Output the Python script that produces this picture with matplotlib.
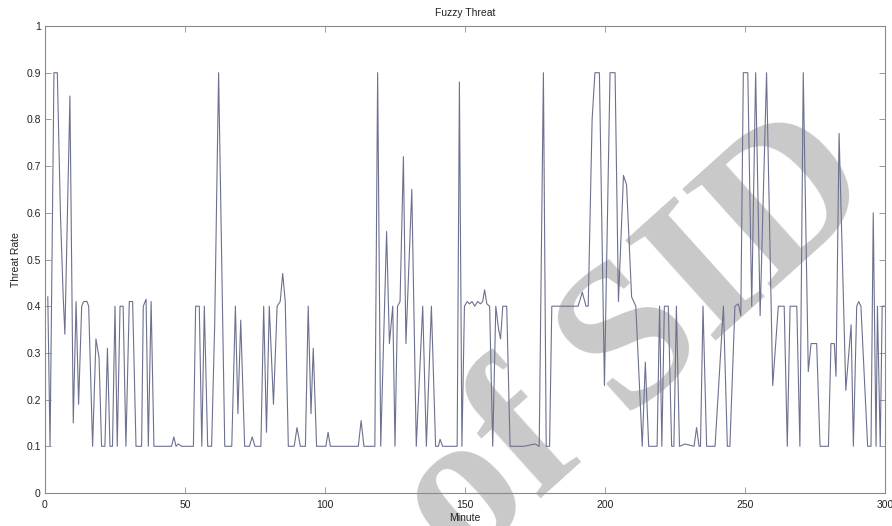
import numpy as np
import matplotlib.pyplot as plt
from matplotlib.ticker import FuncFormatter

# breakpoints of the threat curve (minute, rate)
minutes = [1, 1.8, 3.2, 4.4, 5.5, 6.5, 7.1, 8.9, 10.1, 11.1, 12.0, 13.1, 13.8, 15.0, 15.6,
           17.0, 18.2, 19.3, 20.2, 21.4, 22.3, 23.2, 24.1, 25.0, 25.8, 26.8, 27.9, 28.9,
           30.1, 31.3, 32.5, 34.5, 35.1, 36.1, 36.9, 37.9, 38.9, 45.2, 46.0, 46.8, 47.6,
           48.8, 53.0, 53.8, 55.1, 56.0, 56.9, 58.1, 59.5, 60.6, 62.0, 64.2, 66.7, 68.0,
           68.9, 69.9, 71.3, 73.0, 74.0, 75.0, 77.1, 78.1, 79.1, 80.1, 81.6, 82.9, 84.0,
           84.9, 85.8, 86.9, 89.0, 90.0, 91.2, 93.0, 94.0, 95.0, 95.8, 97.0, 100.3, 101.1,
           101.9, 111.9, 112.9, 113.9, 117.8, 118.8, 119.9, 122.0, 123.0, 124.2, 125.0,
           125.9, 126.8, 128.0, 128.9, 131.0, 132.6, 134.9, 136.2, 138.0, 139.5, 140.5,
           141.1, 142.0, 147.2, 148.0, 148.9, 149.8, 150.8, 151.6, 152.5, 153.5, 154.5,
           155.5, 156.3, 157.0, 157.8, 158.8, 159.9, 161.0, 162.0, 162.7, 163.5, 164.9,
           166.1, 171.0, 175.0, 176.5, 178.0, 179.0, 180.2, 181.0, 190.4, 191.9, 193.2,
           194.0, 195.4, 196.4, 198.0, 199.8, 201.8, 203.6, 204.8, 206.6, 207.7, 209.5,
           211.0, 213.3, 214.4, 215.6, 218.6, 219.5, 220.3, 221.2, 222.6, 223.8, 224.6,
           225.5, 226.6, 228.6, 231.8, 232.7, 233.6, 234.1, 235.0, 236.3, 239.3, 242.3,
           243.7, 244.6, 246.4, 247.6, 248.5, 249.4, 251.0, 252.4, 253.8, 255.4, 257.7,
           259.9, 261.9, 264.0, 265.1, 266.1, 268.5, 269.6, 270.8, 272.6, 273.6, 275.6,
           276.8, 279.8, 280.7, 281.9, 282.5, 283.6, 286.0, 287.9, 288.7, 289.9, 290.6,
           291.4, 293.8, 295.0, 295.8, 296.8, 297.3, 298.3, 299.0, 300.0]
threat = [0.42, 0.1, 0.9, 0.9, 0.6, 0.42, 0.34, 0.85, 0.15, 0.41, 0.19, 0.40, 0.41, 0.41, 0.40,
          0.1, 0.33, 0.29, 0.1, 0.1, 0.31, 0.1, 0.1, 0.40, 0.1, 0.40, 0.40, 0.1,
          0.41, 0.41, 0.1, 0.1, 0.40, 0.415, 0.1, 0.41, 0.1, 0.1, 0.12, 0.1, 0.105,
          0.1, 0.1, 0.40, 0.40, 0.1, 0.40, 0.1, 0.1, 0.36, 0.9, 0.1, 0.1, 0.40,
          0.17, 0.37, 0.1, 0.1, 0.12, 0.1, 0.1, 0.40, 0.13, 0.40, 0.19, 0.40, 0.41,
          0.47, 0.41, 0.1, 0.1, 0.14, 0.1, 0.1, 0.40, 0.17, 0.31, 0.1, 0.1, 0.13,
          0.1, 0.1, 0.155, 0.1, 0.1, 0.9, 0.1, 0.56, 0.32, 0.40, 0.1,
          0.40, 0.41, 0.72, 0.32, 0.65, 0.1, 0.40, 0.1, 0.40, 0.1, 0.1,
          0.115, 0.1, 0.1, 0.88, 0.1, 0.40, 0.41, 0.405, 0.41, 0.40, 0.41,
          0.405, 0.41, 0.435, 0.405, 0.40, 0.1, 0.40, 0.35, 0.33, 0.40, 0.40,
          0.1, 0.1, 0.105, 0.1, 0.9, 0.1, 0.1, 0.40, 0.40, 0.43, 0.40,
          0.40, 0.8, 0.9, 0.9, 0.23, 0.9, 0.9, 0.41, 0.68, 0.66, 0.42,
          0.40, 0.1, 0.28, 0.1, 0.1, 0.40, 0.1, 0.40, 0.40, 0.1, 0.1,
          0.40, 0.1, 0.105, 0.1, 0.14, 0.1, 0.1, 0.40, 0.1, 0.1, 0.40,
          0.1, 0.1, 0.40, 0.405, 0.38, 0.9, 0.9, 0.40, 0.9, 0.38, 0.9,
          0.23, 0.40, 0.40, 0.1, 0.40, 0.40, 0.1, 0.9, 0.26, 0.32, 0.32,
          0.1, 0.1, 0.32, 0.32, 0.25, 0.77, 0.22, 0.36, 0.1, 0.40, 0.41,
          0.40, 0.1, 0.1, 0.6, 0.1, 0.40, 0.1, 0.40, 0.40]

plt.rcParams['font.family'] = ['Liberation Sans', 'DejaVu Sans']

fig = plt.figure(figsize=(8.92, 5.26), dpi=100, facecolor='white')
ax = fig.add_axes([45/892, 33/526, 840/892, 467/526])
ax.set_facecolor('none')

# faint watermark behind the plot
fig.text(0.715, 0.345, 'of SID', rotation=42, rotation_mode='anchor',
         ha='center', va='center', fontsize=148, fontweight='bold',
         family='Liberation Serif', color='#c9c9c9', zorder=-1)

ax.plot(minutes, threat, color='#6c718f', linewidth=0.8)

ax.set_xlim(0, 300)
ax.set_ylim(0, 1)
ax.set_xticks(np.arange(0, 301, 50))
ax.set_yticks(np.arange(0, 1.01, 0.1))
ax.yaxis.set_major_formatter(FuncFormatter(lambda v, p: '%g' % round(v, 1)))

for s in ax.spines.values():
    s.set_color('#8a8a8a')
    s.set_linewidth(0.8)
ax.tick_params(direction='in', top=True, right=True, length=4, width=0.6,
               color='#8a8a8a', labelsize=7.5, labelcolor='#222222')
ax.tick_params(axis='x', pad=5)
ax.tick_params(axis='y', pad=3)

ax.set_title('Fuzzy Threat', fontsize=7.5, color='#222222', pad=7)
ax.set_xlabel('Minute', fontsize=7.5, color='#222222', labelpad=2)
ax.set_ylabel('Threat Rate', fontsize=7.5, color='#222222', labelpad=4)

fig.savefig('out.png', dpi=100)
